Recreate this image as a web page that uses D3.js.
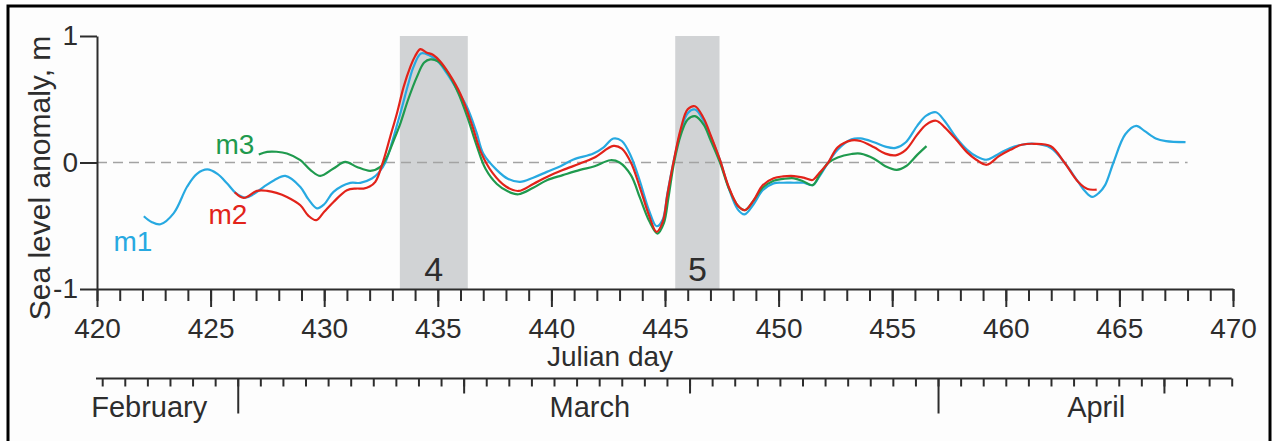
<!DOCTYPE html>
<html><head><meta charset="utf-8">
<script src="https://cdn.jsdelivr.net/npm/d3@7"></script>
<style>
html,body{margin:0;padding:0;background:#fff;}
svg{display:block;}
text{font-family:"Liberation Sans",Arial,Helvetica,sans-serif;fill:#2d2d2d;}
</style></head><body>
<svg id="chart" width="1273" height="441"></svg>
<script>
// ---------------- data ----------------
const m1Days = [422.06,422.4,422.79,423.38,423.97,424.4,424.85,425.3,425.73,426.1,426.53,426.9,427.34,427.8,428.29,428.95,429.3,429.68,430.0,430.41,431.15,431.59,432.1,432.4,432.69,433.0,433.35,433.7,433.93,434.26,434.6,435.0,435.4,435.9,436.28,436.7,437.0,437.6,438.1,438.62,439.2,439.8,440.4,440.97,441.85,442.3,442.73,443.1,443.5,443.9,444.3,444.63,444.9,445.1,445.37,445.7,446.0,446.32,446.7,447.0,447.42,447.8,448.2,448.5,448.9,449.3,449.78,450.2,450.68,451.1,451.5,451.8,452.17,452.6,453.21,453.6,454.2,454.7,455.15,455.6,456.1,456.5,456.93,457.3,457.82,458.3,458.7,459.16,459.7,460.2,460.7,461.24,461.98,462.58,463.18,463.5,463.8,464.1,464.37,464.74,465.26,465.74,466.1,466.6,467.05,467.91];
const m1Values = [-0.425,-0.47,-0.488,-0.40,-0.19,-0.09,-0.055,-0.09,-0.166,-0.24,-0.277,-0.25,-0.193,-0.14,-0.106,-0.193,-0.29,-0.362,-0.33,-0.232,-0.161,-0.161,-0.127,-0.08,0.0,0.17,0.388,0.62,0.756,0.862,0.85,0.8,0.704,0.56,0.44,0.24,0.071,-0.06,-0.13,-0.153,-0.12,-0.074,-0.03,0.024,0.071,0.12,0.19,0.17,0.05,-0.15,-0.38,-0.504,-0.45,-0.25,0.0,0.25,0.39,0.419,0.33,0.21,0.018,-0.2,-0.37,-0.41,-0.33,-0.22,-0.165,-0.16,-0.16,-0.16,-0.179,-0.11,-0.005,0.1,0.183,0.19,0.16,0.125,0.115,0.16,0.29,0.37,0.397,0.33,0.196,0.1,0.049,0.022,0.07,0.115,0.14,0.148,0.115,0.0,-0.152,-0.23,-0.272,-0.24,-0.179,0.0,0.223,0.29,0.25,0.19,0.169,0.161];

const m2Days = [426.06,426.46,427.04,427.49,427.9,428.36,428.95,429.3,429.65,430.0,430.41,431.0,431.4,431.73,432.0,432.25,432.61,432.9,433.2,433.5,433.79,434.0,434.23,434.5,434.8,435.1,435.5,436.0,436.5,436.9,437.4,438.0,438.55,439.2,439.8,440.5,441.26,441.9,442.73,443.1,443.5,443.9,444.3,444.63,444.9,445.1,445.37,445.7,446.0,446.32,446.7,447.0,447.42,447.8,448.2,448.52,448.9,449.3,449.78,450.2,450.68,451.1,451.5,451.8,452.17,452.6,453.21,453.6,454.2,454.7,455.15,455.6,456.1,456.5,456.93,457.3,457.82,458.3,458.7,459.16,459.7,460.2,460.7,461.24,461.98,462.58,463.18,463.6,464.0];
const m2Values = [-0.235,-0.28,-0.224,-0.224,-0.24,-0.272,-0.338,-0.42,-0.456,-0.39,-0.312,-0.219,-0.206,-0.206,-0.19,-0.153,0.018,0.2,0.388,0.6,0.756,0.84,0.896,0.87,0.85,0.8,0.7,0.54,0.3,0.08,-0.08,-0.19,-0.225,-0.17,-0.114,-0.06,-0.008,0.04,0.131,0.11,0.0,-0.2,-0.42,-0.549,-0.47,-0.26,0.0,0.27,0.42,0.445,0.35,0.22,0.02,-0.19,-0.34,-0.377,-0.3,-0.18,-0.125,-0.11,-0.107,-0.12,-0.138,-0.08,-0.005,0.12,0.175,0.17,0.12,0.07,0.057,0.1,0.22,0.3,0.33,0.28,0.18,0.08,0.022,-0.018,0.05,0.10,0.14,0.148,0.129,0.0,-0.152,-0.21,-0.214];

const m3Days = [427.12,427.49,427.9,428.36,428.95,429.4,429.83,430.41,430.93,431.44,432.03,432.47,432.76,433.05,433.35,433.7,434.08,434.4,434.67,435.0,435.4,435.9,436.3,436.7,437.1,437.6,438.1,438.55,439.2,439.8,440.5,441.26,441.9,442.59,443.0,443.5,443.9,444.3,444.67,444.95,445.15,445.4,445.7,446.0,446.32,446.7,447.0,447.42,447.8,448.2,448.52,448.9,449.3,449.78,450.2,450.68,451.1,451.5,451.8,452.17,452.6,453.21,453.6,454.2,454.7,455.2,455.6,456.1,456.51];
const m3Values = [0.063,0.084,0.085,0.071,0.018,-0.06,-0.106,-0.047,0.005,-0.035,-0.066,-0.035,0.044,0.17,0.308,0.5,0.677,0.79,0.815,0.8,0.72,0.55,0.36,0.14,-0.05,-0.17,-0.23,-0.251,-0.2,-0.14,-0.1,-0.058,-0.03,0.018,0.0,-0.1,-0.28,-0.46,-0.562,-0.48,-0.28,0.0,0.22,0.34,0.366,0.3,0.18,0.0,-0.2,-0.34,-0.377,-0.3,-0.2,-0.144,-0.13,-0.125,-0.15,-0.179,-0.1,-0.005,0.04,0.067,0.07,0.03,-0.03,-0.058,-0.03,0.06,0.129];

const seriesNames = ["m1","m2","m3"];
const xTickValues = [420,425,430,435,440,445,450,455,460,465,470];
const yTickValues = [-1,0,1];
const yMinorTickValues = [-0.5,0.5];
const bandLabels = ["4","5"];
const bandStarts = [433.33,445.45];
const bandEnds = [436.32,447.4];
const monthNames = ["February","March","April"];
const monthLabelDates = ["2008-02-26T02:00Z","2008-03-16T14:00Z","2008-04-08T00:00Z"];
const firstDay = "2008-02-24";   // Julian day 420
const lastDay = "2008-04-14";    // Julian day 470

// ---------------- layout ----------------
const svg = d3.select("#chart");
const colors = {m1:"#27a9e1", m2:"#e2231a", m3:"#1f9a4e"};
const x = d3.scaleLinear().domain([420,470]).range([97,1233]);
const y = d3.scaleLinear().domain([-1,1]).range([289,36]);
const xm = d3.scaleUtc().domain([new Date(firstDay), new Date(lastDay)]).range([102.2,1231.7]);
const axisColor = "#2d2d2d";

// frame
svg.append("rect").attr("x",8).attr("y",6).attr("width",1262).attr("height",470)
  .attr("fill","#fdfdfd").attr("stroke","#000").attr("stroke-width",3);

// shaded bands
svg.append("g").selectAll("rect").data(bandLabels).join("rect")
  .attr("x",(d,i)=>x(bandStarts[i])).attr("width",(d,i)=>x(bandEnds[i])-x(bandStarts[i]))
  .attr("y",y(1)).attr("height",y(-1)-y(1)).attr("fill","#d1d3d5");
svg.append("g").selectAll("text").data(bandLabels).join("text")
  .attr("x",(d,i)=>x((bandStarts[i]+bandEnds[i])/2)).attr("y",281)
  .attr("text-anchor","middle").style("font-size","34px").text(d=>d);

// zero line
svg.append("line").attr("x1",x(420)).attr("x2",x(468)).attr("y1",y(0)).attr("y2",y(0))
  .attr("stroke","#a3a3a3").attr("stroke-width",1.6).attr("stroke-dasharray","10,6");

// lines
const line = d3.line().x(d=>x(d[0])).y(d=>y(d[1])).curve(d3.curveCatmullRom.alpha(0.5));
const seriesData = {
  m1: m1Days.map((d,i)=>[d,m1Values[i]]),
  m2: m2Days.map((d,i)=>[d,m2Values[i]]),
  m3: m3Days.map((d,i)=>[d,m3Values[i]])
};
["m1","m3","m2"].forEach(k=>{
  svg.append("path").datum(seriesData[k]).attr("d",line).attr("fill","none")
    .attr("stroke",colors[k]).attr("stroke-width",2.2).attr("stroke-linejoin","round");
});

// series labels
const labelPos = {m1:[133,251], m2:[228,224], m3:[235,154]};
seriesNames.forEach(k=>{
  svg.append("text").attr("x",labelPos[k][0]).attr("y",labelPos[k][1]).attr("text-anchor","middle")
    .style("font-size","28px").style("fill",colors[k]).text(k);
});

function styleAxis(g){
  g.selectAll("path,line").attr("stroke",axisColor).attr("stroke-width",2);
  g.selectAll("text").style("fill","#2d2d2d").attr("font-family",null);
}

// y axis
const gy = svg.append("g").attr("transform",`translate(${x(420)},0)`);
gy.call(d3.axisLeft(y).tickValues(yMinorTickValues).tickSize(9).tickSizeOuter(0).tickFormat(""));
gy.call(d3.axisLeft(y).tickValues(yTickValues).tickSize(17).tickSizeOuter(0).tickPadding(2)
  .tickFormat(d=>d<0?"-"+Math.abs(d):d));
gy.selectAll("text").style("font-size","28px");
styleAxis(gy);

// x axis
const gx = svg.append("g").attr("transform",`translate(0,${y(-1)})`);
gx.call(d3.axisBottom(x).tickValues(d3.range(420,471,1)).tickSize(12).tickSizeOuter(0).tickFormat(""));
const gx2 = svg.append("g").attr("transform",`translate(0,${y(-1)})`);
gx2.call(d3.axisBottom(x).tickValues(xTickValues).tickSize(18).tickSizeOuter(0).tickFormat(d3.format("d")));
gx2.select(".domain").remove();
gx2.selectAll("text").attr("y",49).attr("dy",0).style("font-size","28px");
styleAxis(gx); styleAxis(gx2);

// axis titles
svg.append("text").attr("transform","translate(50,178) rotate(-90)").attr("text-anchor","middle")
  .style("font-size","30px").text("Sea level anomaly, m");
svg.append("text").attr("x",610).attr("y",366).attr("text-anchor","middle")
  .style("font-size","28px").text("Julian day");

// month axis
const gm = svg.append("g").attr("transform","translate(0,378.5)");
const dayTicks = d3.utcDay.range(xm.domain()[0], d3.utcDay.offset(xm.domain()[1],1));
const monthStarts = dayTicks.filter(d=>d.getUTCDate()===1);
const decadeTicks = dayTicks.filter(d=>d.getUTCDate()===11 || d.getUTCDate()===21);
gm.call(d3.axisBottom(xm).tickValues(dayTicks).tickSize(8).tickSizeOuter(0).tickFormat(""));
gm.select(".domain").remove();
gm.append("line").attr("x1",x(420)-1).attr("x2",xm.range()[1]).attr("y1",0).attr("y2",0);
const gm2 = svg.append("g").attr("transform","translate(0,378.5)");
gm2.call(d3.axisBottom(xm).tickValues(decadeTicks).tickSize(15).tickSizeOuter(0).tickFormat(""));
gm2.select(".domain").remove();
const gm3 = svg.append("g").attr("transform","translate(0,378.5)");
gm3.call(d3.axisBottom(xm).tickValues(monthStarts).tickSize(35).tickSizeOuter(0).tickFormat(""));
gm3.select(".domain").remove();
[gm,gm2,gm3].forEach(styleAxis);

svg.append("g").selectAll("text").data(monthNames).join("text")
  .attr("x",(d,i)=>xm(new Date(monthLabelDates[i]))).attr("y",417)
  .attr("text-anchor","middle").style("font-size","29px").text(d=>d);
</script>
</body></html>
